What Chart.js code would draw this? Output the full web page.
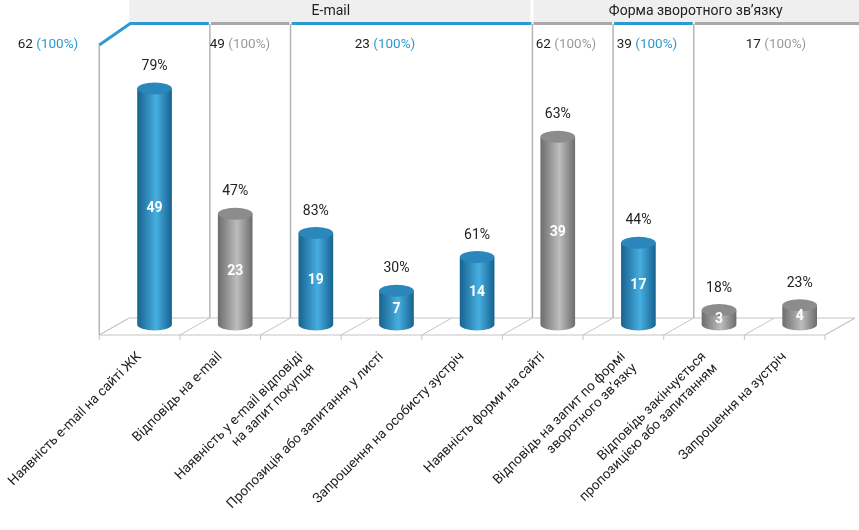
<!DOCTYPE html>
<html><head><meta charset="utf-8">
<script src="https://cdn.jsdelivr.net/npm/chart.js@4"></script>
<style>html,body{margin:0;padding:0;background:#fff}#w{width:859px;height:530px}</style>
</head><body><div id="w"><canvas id="c"></canvas></div>
<script>
const categories = [
  "Наявність e-mail на сайті ЖК",
  "Відповідь на e-mail",
  ["Наявність у e-mail відповіді","на запит покупця"],
  "Пропозиція або запитання у листі",
  "Запрошення на особисту зустріч",
  "Наявність форми на сайті",
  ["Відповідь на запит по формі","зворотного зв’язку"],
  ["Відповідь закінчується","пропозицією або запитанням"],
  "Запрошення на зустріч"
];
const values = [49, 23, 19, 7, 14, 39, 17, 3, 4];
const percents = ["79%", "47%", "83%", "30%", "61%", "63%", "44%", "18%", "23%"];
const colorKeys = ["blue","gray","blue","blue","blue","gray","blue","gray","gray"];
const groupTitles = ["E-mail", "Форма зворотного зв’язку"];
const baseLabels = [
  {n:"62", p:"(100%)", c:"blue", x:48},
  {n:"49", p:"(100%)", c:"gray", x:240},
  {n:"23", p:"(100%)", c:"blue", x:385},
  {n:"62", p:"(100%)", c:"gray", x:566},
  {n:"39", p:"(100%)", c:"blue", x:647},
  {n:"17", p:"(100%)", c:"gray", x:776}
];
const BLUE = "#2d9ad0", GRAYT = "#9a9a9a";
const DX = 30, DY = 17;
const FONT = "Roboto, 'DejaVu Sans', sans-serif";

const pal = {
  blue: {e:"#17628f", m:"#46aee0", top:"#2a86bb"},
  gray: {e:"#6c6c6c", m:"#bdbdbd", top:"#8c8c8c"}
};

const deco = {
  id: "deco",
  beforeDatasetsDraw(chart) {
    const {ctx, chartArea: a} = chart;
    const n = categories.length;
    const slot = (a.right - a.left) / n;
    ctx.save();
    ctx.fillStyle = "#efefef";
    ctx.fillRect(a.left + DX, 0, chart.width - a.left - DX, 22);
    ctx.fillStyle = "#fff";
    ctx.fillRect(a.left + DX + slot*5 - 2, 0, 3, 22);
    ctx.fillStyle = "#222"; ctx.font = "14px " + FONT; ctx.textAlign = "center"; ctx.textBaseline = "middle";
    ctx.fillText(groupTitles[0], (a.left + DX + a.left + DX + slot*5)/2, 11);
    ctx.fillText(groupTitles[1], (a.left + DX + slot*5 + chart.width)/2, 11);
    const segs = [[0,1,"blue"],[1,2,"gray"],[2,5,"blue"],[5,6,"gray"],[6,7,"blue"],[7,9.4,"gray"]];
    ctx.lineWidth = 3;
    segs.forEach(s => {
      ctx.strokeStyle = s[2]==="blue" ? BLUE : "#a8a8a8";
      ctx.beginPath();
      ctx.moveTo(a.left + DX + slot*s[0] + (s[0]?1:0), 23.5);
      ctx.lineTo(Math.min(chart.width, a.left + DX + slot*s[1] - 1), 23.5);
      ctx.stroke();
    });
    ctx.strokeStyle = BLUE;
    ctx.beginPath(); ctx.moveTo(a.left, 45); ctx.lineTo(a.left + DX + 1, 23.5); ctx.stroke();
    ctx.lineWidth = 1.5; ctx.strokeStyle = "#b5b5b5";
    ctx.beginPath(); ctx.moveTo(a.left, 45); ctx.lineTo(a.left, a.bottom); ctx.stroke();
    [1,2,5,6,7].forEach(i => {
      const x = a.left + DX + slot*i;
      ctx.beginPath(); ctx.moveTo(x, 24); ctx.lineTo(x, a.bottom - DY); ctx.stroke();
    });
    ctx.lineWidth = 1; ctx.strokeStyle = "#c4c4c4";
    ctx.beginPath();
    ctx.moveTo(a.left, a.bottom); ctx.lineTo(a.right, a.bottom);
    ctx.lineTo(a.right + DX, a.bottom - DY); ctx.lineTo(a.left + DX, a.bottom - DY); ctx.closePath();
    ctx.stroke();
    for (let i = 0; i <= n; i++) {
      const x = a.left + slot*i;
      ctx.beginPath(); ctx.moveTo(x, a.bottom); ctx.lineTo(x + DX, a.bottom - DY);
      ctx.moveTo(x, a.bottom); ctx.lineTo(x, a.bottom + 5); ctx.stroke();
    }
    ctx.font = "13.5px " + FONT; ctx.textBaseline = "middle"; ctx.textAlign = "left";
    baseLabels.forEach(b => {
      const t1 = b.n + " ", w1 = ctx.measureText(t1).width, w2 = ctx.measureText(b.p).width;
      const x0 = b.x - (w1 + w2)/2;
      ctx.fillStyle = "#222"; ctx.fillText(t1, x0, 45);
      ctx.fillStyle = b.c === "blue" ? BLUE : GRAYT; ctx.fillText(b.p, x0 + w1, 45);
    });
    ctx.restore();
  },
  afterDatasetsDraw(chart) {
    const {ctx} = chart;
    const meta = chart.getDatasetMeta(0);
    ctx.save();
    meta.data.forEach((el, i) => {
      const p = pal[colorKeys[i]];
      const cx = el.x + DX/2, w = el.width, rx = w/2, ry = 6;
      const base = el.base - DY/2 - 2, top = el.y - DY/2 - 2;
      const g = ctx.createLinearGradient(cx - rx, 0, cx + rx, 0);
      g.addColorStop(0, p.e); g.addColorStop(0.55, p.m); g.addColorStop(1, p.e);
      ctx.fillStyle = g;
      ctx.beginPath();
      ctx.moveTo(cx - rx, top);
      ctx.lineTo(cx - rx, base);
      ctx.ellipse(cx, base, rx, ry, 0, Math.PI, 0, true);
      ctx.lineTo(cx + rx, top);
      ctx.closePath(); ctx.fill();
      ctx.fillStyle = p.top;
      ctx.beginPath(); ctx.ellipse(cx, top, rx, ry, 0, 0, Math.PI*2); ctx.fill();
      ctx.fillStyle = "#fff"; ctx.font = "bold 14px " + FONT; ctx.textAlign = "center"; ctx.textBaseline = "middle";
      ctx.fillText(String(values[i]), cx, (top + base)/2 + 2);
      ctx.fillStyle = "#222"; ctx.font = "14px " + FONT;
      ctx.fillText(percents[i], cx, top - 22);
    });
    ctx.restore();
  }
};

new Chart(document.getElementById("c"), {
  type: "bar",
  data: { labels: categories, datasets: [{ data: values, backgroundColor: "rgba(0,0,0,0)", barPercentage: 0.43, categoryPercentage: 1 }] },
  options: {
    responsive: true, maintainAspectRatio: false, animation: false,
    devicePixelRatio: 1,
    layout: { padding: { left: 86, right: 34, top: 22, bottom: 0 } },
    plugins: { legend: { display: false }, tooltip: { enabled: false } },
    scales: {
      y: { display: false, min: 0, max: 65 },
      x: {
        grid: { display: false }, border: { display: false },
        afterFit(s) { s.height = 195; },
        ticks: { maxRotation: 45, minRotation: 45, color: "#222", padding: 6, font: { size: 13.5, family: FONT } }
      }
    }
  },
  plugins: [deco]
});
</script></body></html>
